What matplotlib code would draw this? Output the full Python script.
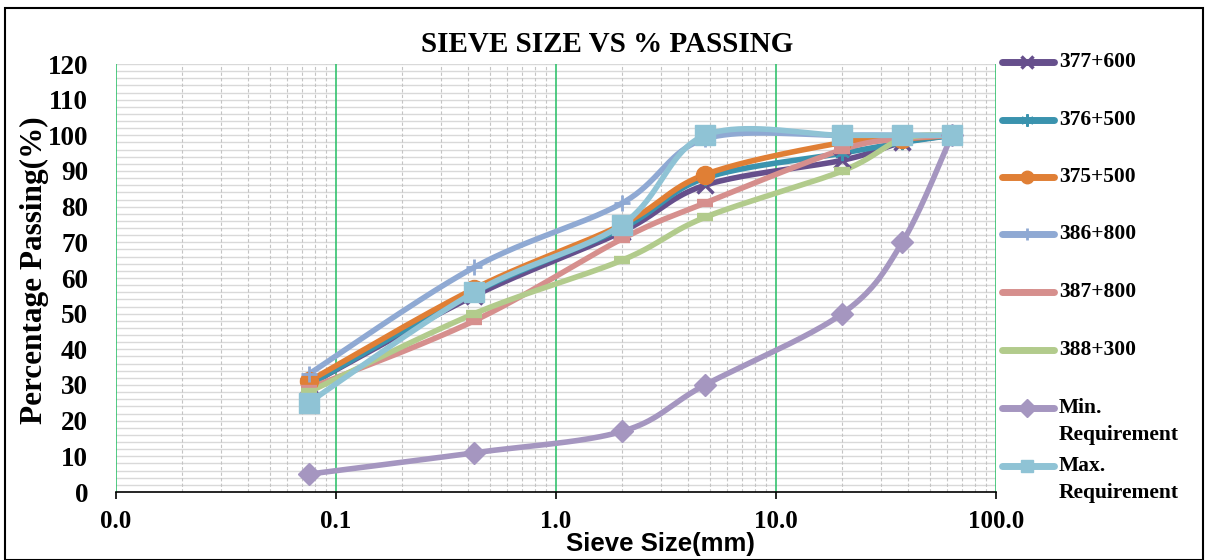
import numpy as np
import matplotlib
matplotlib.use('Agg')
import matplotlib.pyplot as plt
from matplotlib.lines import Line2D
from matplotlib.patches import Rectangle
from matplotlib.ticker import FixedLocator, NullFormatter, MultipleLocator

# ── data ──
sieve_mm = [0.075, 0.425, 2.0, 4.75, 20.0, 37.5, 63.0]
labels = ['377+600', '376+500', '375+500', '386+800', '387+800', '388+300',
          'Min.\nRequirement', 'Max.\nRequirement']
p_377600 = [30, 55, 73, 86, 93, 98, 100]
p_376500 = [30, 56, 74, 88, 95, 98, 100]
p_375500 = [31, 57, 75, 89, 98, 99, 100]
p_386800 = [33, 63, 81, 99, 100, 100, 100]
p_387800 = [29, 48, 71, 81, 96, 99, 100]
p_388300 = [28, 50, 65, 77, 90, 99, 100]
p_min = [5, 11, 17, 30, 50, 70, 100]
p_max = [25, 56, 75, 100, 100, 100, 100]
series = [p_377600, p_376500, p_375500, p_386800, p_387800, p_388300, p_min, p_max]

# ── styles ──
colors = ['#664F8C', '#3A93AE', '#E07F35', '#8FA9D3', '#D68F8D', '#B2CB8C',
          '#A596C0', '#8FC3D5']
markers = ['x', (6, 2, 0), 'o', '+', '_', '_', 'D', 's']
msizes = [11, 11, 13, 12, 11, 11, 11, 14]
mews = [2.5, 1.5, 1, 2, 6, 6, 1, 1]

SERIF = ['Liberation Serif', 'DejaVu Serif']
SANS = ['Liberation Sans', 'DejaVu Sans']


def smooth(xs, ys, n=40):
    """Excel-style smoothed line (Catmull-Rom Bezier in log-x space)."""
    P = np.column_stack([np.log10(xs), np.asarray(ys, float)])
    E = np.vstack([P[0], P, P[-1]])
    t = np.linspace(0, 1, n)[:, None]
    segs = []
    for i in range(len(P) - 1):
        p0, p1, p2, p3 = E[i], E[i + 1], E[i + 2], E[i + 3]
        c1 = p1 + (p2 - p0) / 6
        c2 = p2 - (p3 - p1) / 6
        seg = (1 - t)**3 * p1 + 3 * (1 - t)**2 * t * c1 + 3 * (1 - t) * t**2 * c2 + t**3 * p2
        segs.append(seg if i == 0 else seg[1:])
    pts = np.vstack(segs)
    return 10**pts[:, 0], pts[:, 1]


W, H = 1213, 560
fig = plt.figure(figsize=(W / 100, H / 100), dpi=100)
ax = fig.add_axes([116 / W, 68 / H, 880 / W, 428 / H])

# grid
ax.set_xscale('log')
ax.set_xlim(0.01, 100)
ax.set_ylim(0, 120)
ax.yaxis.set_major_locator(MultipleLocator(10))
ax.yaxis.set_minor_locator(MultipleLocator(2))
for yv in np.arange(2, 121, 2):
    ax.axhline(yv, color='#D9D9D9', lw=1.0, zorder=0)
minor_x = [m * 10.0**e for e in range(-2, 2) for m in range(2, 10)]
for xv in minor_x:
    ax.axvline(xv, color='#C4C4C4', lw=0.8, ls=(0, (3, 2)), zorder=0)
for xv in [0.01, 0.1, 1, 10, 100]:
    ax.axvline(xv, color='#33C26E', lw=1.2, zorder=1)

for ys, c, m, ms, mw in zip(series, colors, markers, msizes, mews):
    sx, sy = smooth(sieve_mm, ys)
    ax.plot(sx, sy, color=c, lw=4, solid_capstyle='round', zorder=3)
    ax.plot(sieve_mm, ys, ls='none', marker=m, ms=ms, mew=mw, color=c,
            mec=c, mfc=c, zorder=4)

for s in ['top', 'right', 'left']:
    ax.spines[s].set_visible(False)
ax.spines['bottom'].set_color('black')
ax.spines['bottom'].set_linewidth(1.2)
ax.spines['bottom'].set_zorder(5)

ax.xaxis.set_major_locator(FixedLocator([0.01, 0.1, 1, 10, 100]))
ax.xaxis.set_minor_locator(FixedLocator(minor_x))
ax.xaxis.set_minor_formatter(NullFormatter())
ax.set_xticklabels(['0.0', '0.1', '1.0', '10.0', '100.0'])
ax.tick_params(axis='x', which='major', direction='out', length=5, width=1.2,
               pad=8)
ax.tick_params(axis='x', which='minor', length=0)
ax.tick_params(axis='y', which='both', length=0, pad=20)
for lab in ax.get_xticklabels():
    lab.set_fontfamily(SERIF)
    lab.set_fontweight('bold')
    lab.set_fontsize(18)
for lab in ax.get_yticklabels():
    lab.set_fontfamily(SERIF)
    lab.set_fontweight('bold')
    lab.set_fontsize(19.5)

# titles
fig.text(607 / W, 1 - 45 / H, 'SIEVE SIZE VS % PASSING', ha='center', va='center',
         fontsize=21, fontweight='bold', family=SERIF)
fig.text(34 / W, 1 - 270 / H, 'Percentage Passing(%)', ha='center', va='center',
         rotation=90, fontsize=22.5, fontweight='bold', family=SERIF)
fig.text(660 / W, 1 - 551 / H, 'Sieve Size(mm)', ha='center', va='baseline',
         fontsize=18.5, fontweight='bold', family=SANS)

# legend (drawn manually to match layout)
leg_y = [62, 120, 177, 234, 292, 350, 408, 466]
for lab, yy, c, m, mw in zip(labels, leg_y, colors, markers, mews):
    yf = 1 - yy / H
    fig.add_artist(Line2D([1002 / W, 1027 / W, 1054 / W], [yf, yf, yf],
                          transform=fig.transFigure, color=c, lw=5,
                          solid_capstyle='round', marker=m, markevery=[1],
                          ms=9, mew=min(mw, 4), mec=c, mfc=c))
    for k, line in enumerate(lab.split('\n')):
        fig.text(1059 / W, 1 - (yy + 27 * k) / H, line, ha='left', va='center',
                 fontsize=15.5, fontweight='bold', family=SERIF)

# outer chart border
fig.add_artist(Rectangle((5 / W, 0), 1198 / W, 1 - 8 / H, transform=fig.transFigure,
                         fill=False, ec='black', lw=1.5))

fig.savefig('out.png', dpi=100)
